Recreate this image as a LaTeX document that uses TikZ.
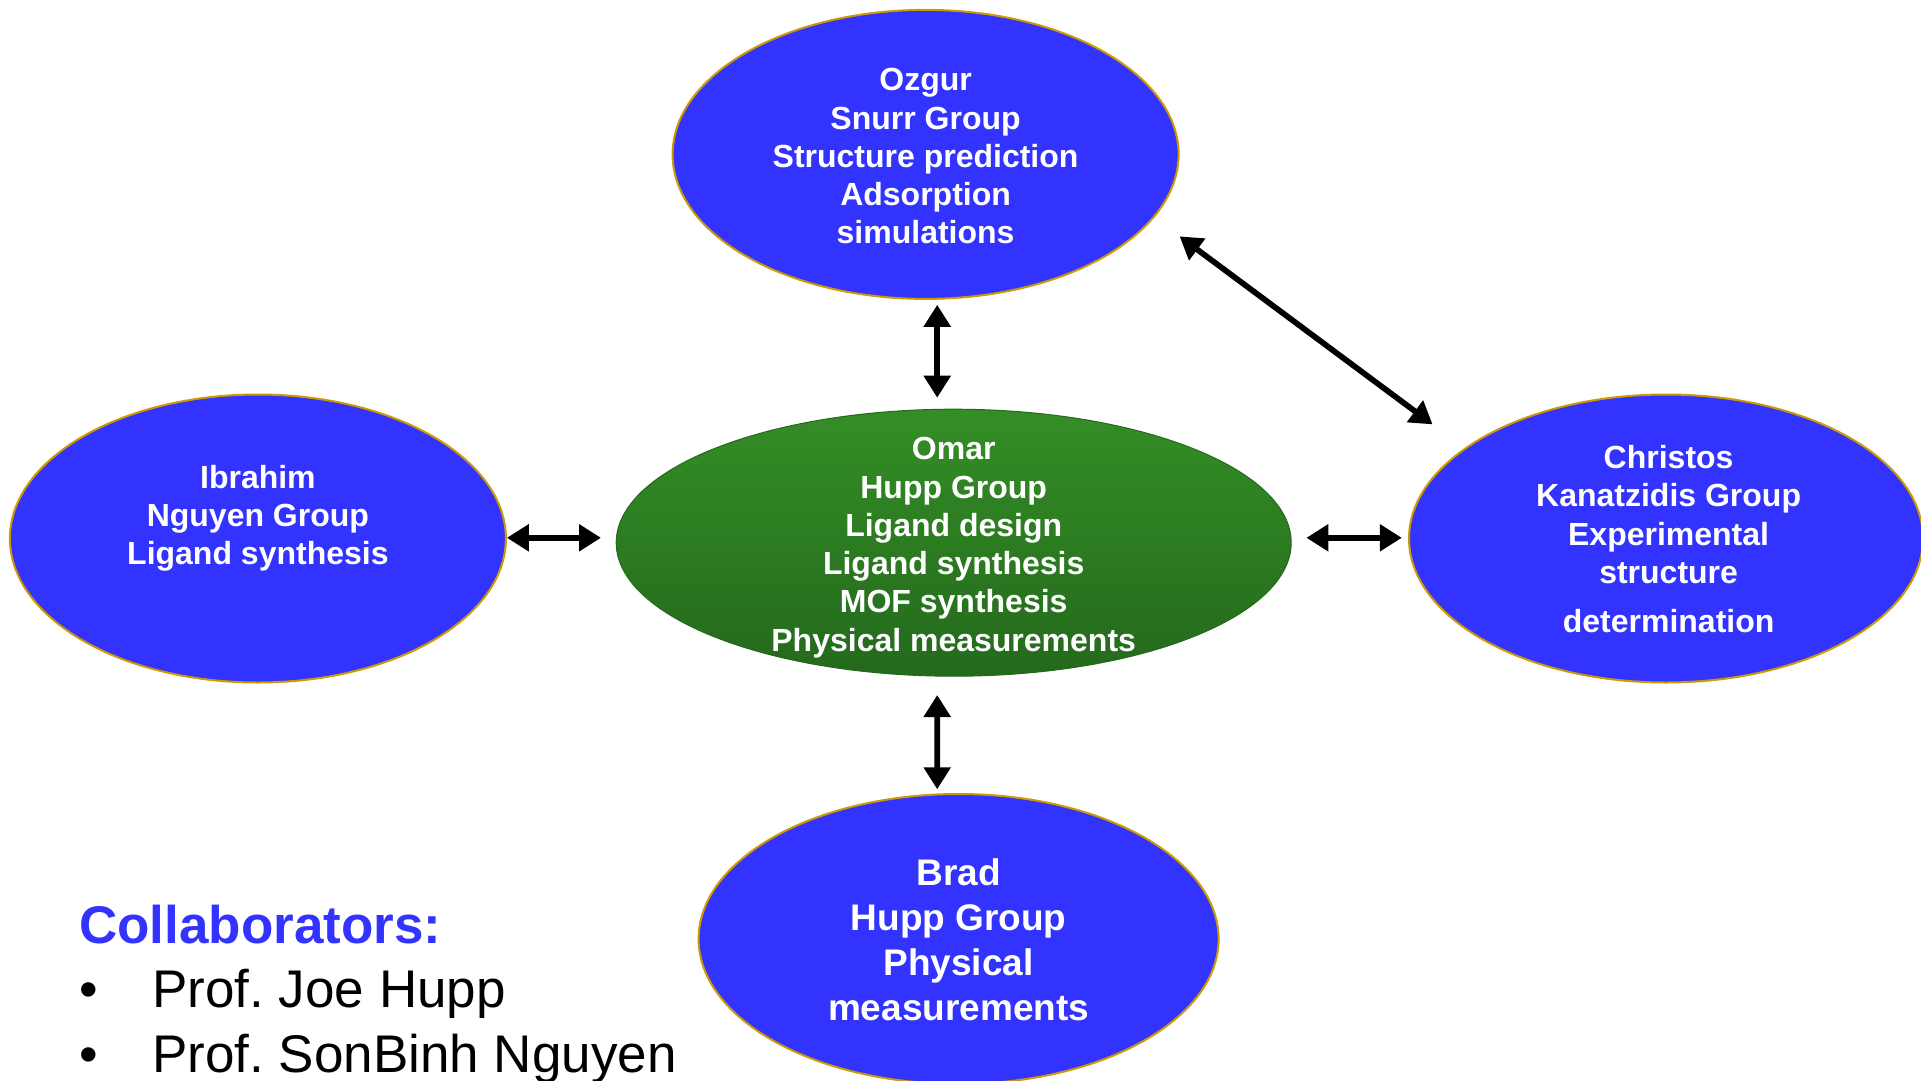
\documentclass[tikz,border=0pt]{standalone}
\usepackage{fontspec}
\setmainfont{Liberation Sans}
\usetikzlibrary{arrows.meta,calc,shapes.geometric}
\definecolor{groupblue}{RGB}{51,51,255}
\definecolor{rimgold}{RGB}{204,153,0}
\definecolor{leadgreenA}{RGB}{52,142,38}
\definecolor{leadgreenB}{RGB}{36,105,28}
\frenchspacing

\begin{document}
\begin{tikzpicture}[x=0.75pt,y=-0.75pt,
  group/.style={ellipse, fill=groupblue, draw=rimgold, line width=1.5pt, inner sep=0pt},
  lead/.style={ellipse, top color=leadgreenA, bottom color=leadgreenB, draw=leadgreenB, line width=0.75pt, inner sep=0pt},
  bubbletext/.style={text=white, align=center, inner sep=0pt, font=\bfseries\fontsize{24}{28.7}\selectfont},
  listtext/.style={anchor=base west, inner sep=0pt, font=\fontsize{39.75}{48}\selectfont},
  link/.style={line width=4.3pt, {Triangle[length=16.5pt,width=19.5pt]}-{Triangle[length=16.5pt,width=19.5pt]}},
]
\useasboundingbox (0,0) rectangle (1921,1081);

% research groups
\node[group, minimum width=379.5pt, minimum height=216.75pt] (ozgur) at (925.6,154.4) {};
\node[lead, minimum width=506.25pt, minimum height=200.25pt] (omar) at (953.7,542.7) {};
\node[group, minimum width=372pt, minimum height=216pt] (ibrahim) at (257.9,538.5) {};
\node[group, minimum width=385.5pt, minimum height=216pt] (christos) at (1666,538.5) {};
\node[group, minimum width=390pt, minimum height=217.5pt] (brad) at (958.6,939) {};

% labels inside the ellipses
\node[bubbletext] (ozgur-txt) at ($(ozgur.center)+(0,2)$)
  {Ozgur\\Snurr Group\\Structure prediction\\Adsorption\\simulations};
\node[bubbletext] (omar-txt) at ($(omar.center)+(0,5)$)
  {Omar\\Hupp Group\\Ligand design\\Ligand synthesis\\MOF synthesis\\Physical measurements};
\node[bubbletext] (ibrahim-txt) at ($(ibrahim.center)+(0,-20)$)
  {Ibrahim\\Nguyen Group\\Ligand synthesis};
\node[bubbletext] (christos-txt) at ($(christos.center)+(2.6,0.5)$)
  {Christos\\Kanatzidis Group\\Experimental\\structure\\[8pt]determination};
\node[bubbletext, font=\bfseries\fontsize{27.75}{33.75}\selectfont] (brad-txt) at ($(brad.center)+(0,1)$)
  {Brad\\Hupp Group\\Physical\\measurements};

% two-way links
\draw[link] ($(ozgur.south)+(11.6,4.9)$) -- ($(omar.north)+(-16.5,-11)$);
\draw[link] ($(omar.south)+(-16.5,18.3)$) -- ($(brad.north)+(-21.4,-3.7)$);
\draw[link] ($(ibrahim.east)+(0,-0.7)$) -- ($(omar.west)+(-14.7,-4.9)$);
\draw[link] ($(omar.east)+(14.7,-4.9)$) -- ($(christos.west)+(-6.2,-0.7)$);
\draw[link] ($(ozgur.east)+(0,82)$) -- ($(christos.north west)+(-51,-11.6)$);

% collaborators list
\node[listtext, text=groupblue, font=\bfseries\fontsize{39.75}{48}\selectfont] (collab) at (79,943) {Collaborators:};
\node[anchor=base, inner sep=0pt, font=\fontsize{39.75}{48}\selectfont] (dot1) at (89,1007) {\textbullet};
\node[listtext] (prof1) at (152,1007) {Prof. Joe Hupp};
\node[anchor=base, inner sep=0pt, font=\fontsize{39.75}{48}\selectfont] (dot2) at (89,1072) {\textbullet};
\node[listtext] (prof2) at (152,1072) {Prof. SonBinh Nguyen};
\end{tikzpicture}
\end{document}
